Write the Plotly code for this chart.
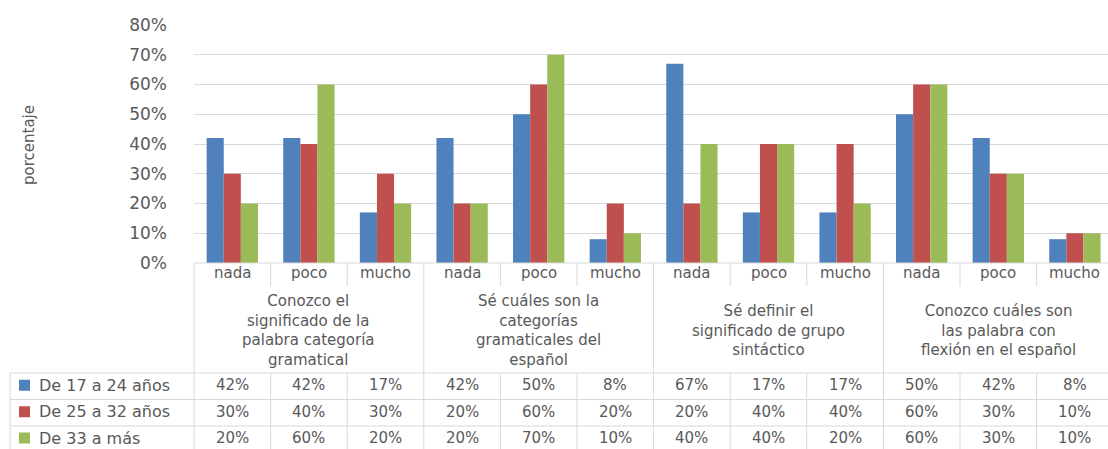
import plotly.graph_objects as go

# --- data -------------------------------------------------------------
niveles = ["nada", "poco", "mucho"] * 4
preguntas = [
    "Conozco el<br>significado de la<br>palabra categoría<br>gramatical",
    "Sé cuáles son la<br>categorías<br>gramaticales del<br>español",
    "Sé definir el<br>significado de grupo<br>sintáctico",
    "Conozco cuáles son<br>las palabra con<br>flexión en el español",
]
series_nombres = ["De 17 a 24 años", "De 25 a 32 años", "De 33 a más"]
edad_17_24 = [42, 42, 17, 42, 50, 8, 67, 17, 17, 50, 42, 8]
edad_25_32 = [30, 40, 30, 20, 60, 20, 20, 40, 40, 60, 30, 10]
edad_33_mas = [20, 60, 20, 20, 70, 10, 40, 40, 20, 60, 30, 10]
series_valores = [edad_17_24, edad_25_32, edad_33_mas]
colores = ["#4F81BD", "#C0504D", "#9BBB59"]
y_ticks = [0, 10, 20, 30, 40, 50, 60, 70, 80]

# --- geometry ---------------------------------------------------------
W, H = 1108, 449
ML, MT, MB = 194, 25, 186
PLOT_H = H - MT - MB
PLOT_W = W - ML
GRID = "#d9d9d9"
TXT = "#595959"
FONT = "DejaVu Sans"


def py(p):
    """pixel row -> paper y"""
    return (H - MB - p) / PLOT_H


def px(p):
    """pixel column -> paper x"""
    return (p - ML) / PLOT_W


n = len(niveles)
xs = list(range(n))

fig = go.Figure()
for nombre, vals, col in zip(series_nombres, series_valores, colores):
    fig.add_trace(go.Bar(x=xs, y=vals, name=nombre, marker_color=col,
                         marker_line_width=0, showlegend=False))

shapes = []
ann = []


def hline(y, x0, x1):
    shapes.append(dict(type="line", xref="paper", yref="paper",
                       x0=x0, x1=x1, y0=py(y), y1=py(y),
                       line=dict(color=GRID, width=1)))


def vline_x(xd, y0, y1):
    shapes.append(dict(type="line", xref="x", yref="paper",
                       x0=xd, x1=xd, y0=py(y0), y1=py(y1),
                       line=dict(color=GRID, width=1)))


def vline_p(xp, y0, y1):
    shapes.append(dict(type="line", xref="paper", yref="paper",
                       x0=px(xp), x1=px(xp), y0=py(y0), y1=py(y1),
                       line=dict(color=GRID, width=1)))


def label(x, y, text, xref="x", size=15, **kw):
    ann.append(dict(x=x, y=py(y), xref=xref, yref="paper", text=text,
                    showarrow=False, yanchor="middle",
                    font=dict(size=size, color=TXT, family=FONT), **kw))


# table frame
ROW_TOP = 263
ROW_CAT = 286
ROWS = [373, 399.5, 426, 452]
hline(ROW_TOP, 0, 1)
for r in ROWS[:-1]:
    hline(r, px(10), 1)
vline_p(ML, ROW_TOP, H)
vline_p(10, ROWS[0], H)
for i in range(1, n):
    b = i - 0.5
    if i % 3 == 0:
        vline_x(b, ROW_TOP, H)
    else:
        vline_x(b, ROW_TOP, ROW_CAT)
        vline_x(b, ROWS[0], H)

# category labels
for i, lab in enumerate(niveles):
    label(i, 273, lab)

# question labels
for g, q in enumerate(preguntas):
    label(g * 3 + 1, 330, q)

# data rows
for r, (nombre, vals, col) in enumerate(zip(series_nombres, series_valores, colores)):
    yc = (ROWS[r] + ROWS[r + 1]) / 2 - 1
    shapes.append(dict(type="rect", xref="paper", yref="paper",
                       x0=px(19), x1=px(30), y0=py(yc - 5.5), y1=py(yc + 5.5),
                       fillcolor=col, line=dict(width=0)))
    label(px(37), yc, nombre, xref="paper", size=16, xanchor="left")
    for i, v in enumerate(vals):
        label(i, yc, f"{v}%")

# axis title
label(px(18), 145, "porcentaje", xref="paper", size=15, textangle=-90)

fig.update_layout(
    width=W, height=H,
    margin=dict(l=ML, r=0, t=MT, b=MB, pad=0),
    paper_bgcolor="white", plot_bgcolor="white",
    bargap=0.33, bargroupgap=0, barmode="group",
    shapes=shapes, annotations=ann,
    font=dict(family=FONT, color=TXT),
)
fig.update_xaxes(range=[-0.5, -0.5 + PLOT_W / 76.6], showticklabels=False,
                 showgrid=False, zeroline=False, showline=False, fixedrange=True)
fig.update_yaxes(range=[0, 80], tickvals=y_ticks,
                 ticktext=[f"{t}%" for t in y_ticks],
                 showgrid=True, gridcolor=GRID, gridwidth=1, zeroline=False,
                 showline=False, ticks="", ticklabelstandoff=26,
                 tickfont=dict(size=17, color=TXT, family=FONT))

fig.write_html("out.html")
